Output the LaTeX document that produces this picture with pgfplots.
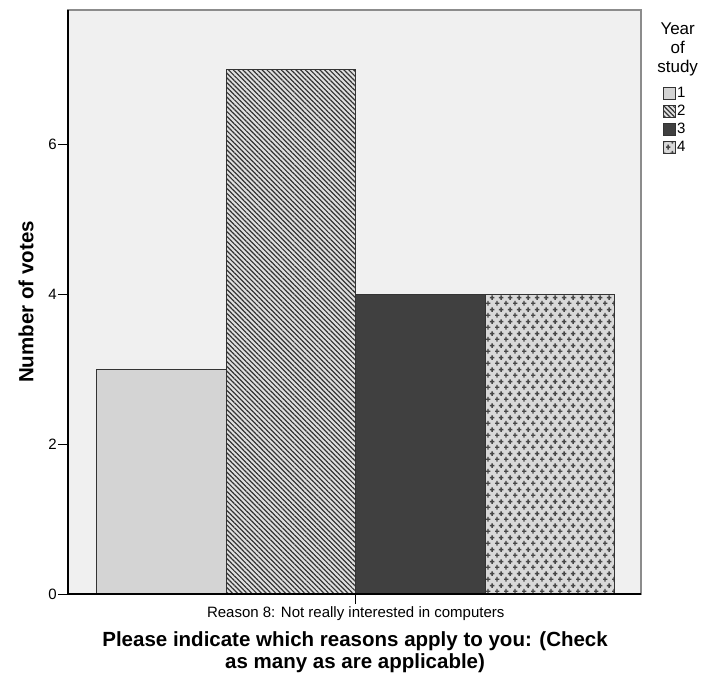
\documentclass[border=0pt]{standalone}
\usepackage{pgfplots}
\pgfplotsset{compat=1.18}
\usepackage{fontspec}
\setmainfont{Liberation Sans}
\usetikzlibrary{patterns,patterns.meta}

\pgfdeclarepatternformonly{plusgrid}{\pgfqpoint{0bp}{0bp}}{\pgfqpoint{9bp}{12bp}}{\pgfqpoint{9bp}{12bp}}{
 \pgfsetlinewidth{1.5bp}
 \pgfpathmoveto{\pgfqpoint{-0.25bp}{3bp}}\pgfpathlineto{\pgfqpoint{4.75bp}{3bp}}
 \pgfpathmoveto{\pgfqpoint{2.25bp}{0.5bp}}\pgfpathlineto{\pgfqpoint{2.25bp}{5.5bp}}
 \pgfpathmoveto{\pgfqpoint{4.25bp}{9bp}}\pgfpathlineto{\pgfqpoint{9.25bp}{9bp}}
 \pgfpathmoveto{\pgfqpoint{6.75bp}{6.5bp}}\pgfpathlineto{\pgfqpoint{6.75bp}{11.5bp}}
 \pgfusepath{stroke}
}

\begin{document}
\begin{tikzpicture}
\begin{axis}[
  scale only axis, width=573bp, height=584bp,
  xmin=-0.722, xmax=3.703, ymin=0, ymax=7.787,
  clip=false,
  axis background/.style={fill=black!6},
  axis line style={draw=black!45, line width=1.2bp},
  ytick={0,2,4,6}, xtick={1.5},
  xticklabels={Reason 8: Not really interested in computers},
  tick align=outside, xtick pos=left, ytick pos=left,
  major tick length=10bp,
  tick style={black, line width=1bp},
  /pgf/number format/assume math mode=true,
  yticklabel style={font=\fontsize{15bp}{17bp}\selectfont, inner sep=1bp},
  xticklabel style={font=\fontsize{15bp}{17bp}\selectfont, inner sep=1bp, yshift=-1bp},
  ylabel={Number of votes},
  ylabel style={at={(axis description cs:-0.073,0.5)}, anchor=center, font=\bfseries\fontsize{20.5bp}{23bp}\selectfont},
  xlabel={Please indicate which reasons apply to you: (Check\\as many as are applicable)},
  xlabel style={at={(axis description cs:0.501,-0.1005)}, anchor=center, align=center, font=\bfseries\fontsize{20.5bp}{22bp}\selectfont},
  legend style={at={(axis description cs:1.0385,0.8695)}, anchor=north west, draw=none, fill=none,
    font=\fontsize{15bp}{17bp}\selectfont, row sep=4bp, inner sep=0pt, nodes={inner sep=1bp}},
  legend cell align=left,
  legend image code/.code={\draw[#1] (0bp,-6bp) rectangle (12bp,6bp);},
]
\addplot[ybar, bar width=1, bar shift=0pt, draw=black!80, line width=0.8bp, fill=black!17] coordinates {(0,3)};
\addlegendentry{1}
\addplot[ybar, bar width=1, bar shift=0pt, draw=black!80, line width=0.8bp, fill=black!12,
  postaction={pattern={Lines[angle=-45,distance=3.4bp,line width=1.2bp]}, pattern color=black!80}] coordinates {(1,7)};
\addlegendentry{2}
\addplot[ybar, bar width=1, bar shift=0pt, draw=black!80, line width=0.8bp, fill=black!75] coordinates {(2,4)};
\addlegendentry{3}
\addplot[ybar, bar width=1, bar shift=0pt, draw=black!80, line width=0.8bp, fill=black!15,
  postaction={pattern=plusgrid, pattern color=black!72}] coordinates {(3,4)};
\addlegendentry{4}
\draw[black, line width=1.3bp] (axis description cs:0,1) -- (axis description cs:0,0) -- (axis description cs:1,0);
\node[align=center, font=\fontsize{17bp}{19bp}\selectfont] at (axis description cs:1.064,0.932) {Year\\of\\study};
\coordinate (ll) at (axis description cs:0,0);
\coordinate (ur) at (axis description cs:1,1);
\end{axis}
\pgfresetboundingbox
\path ([shift={(-68bp,-84bp)}]ll) rectangle ([shift={(63bp,10bp)}]ur);
\end{tikzpicture}
\end{document}
